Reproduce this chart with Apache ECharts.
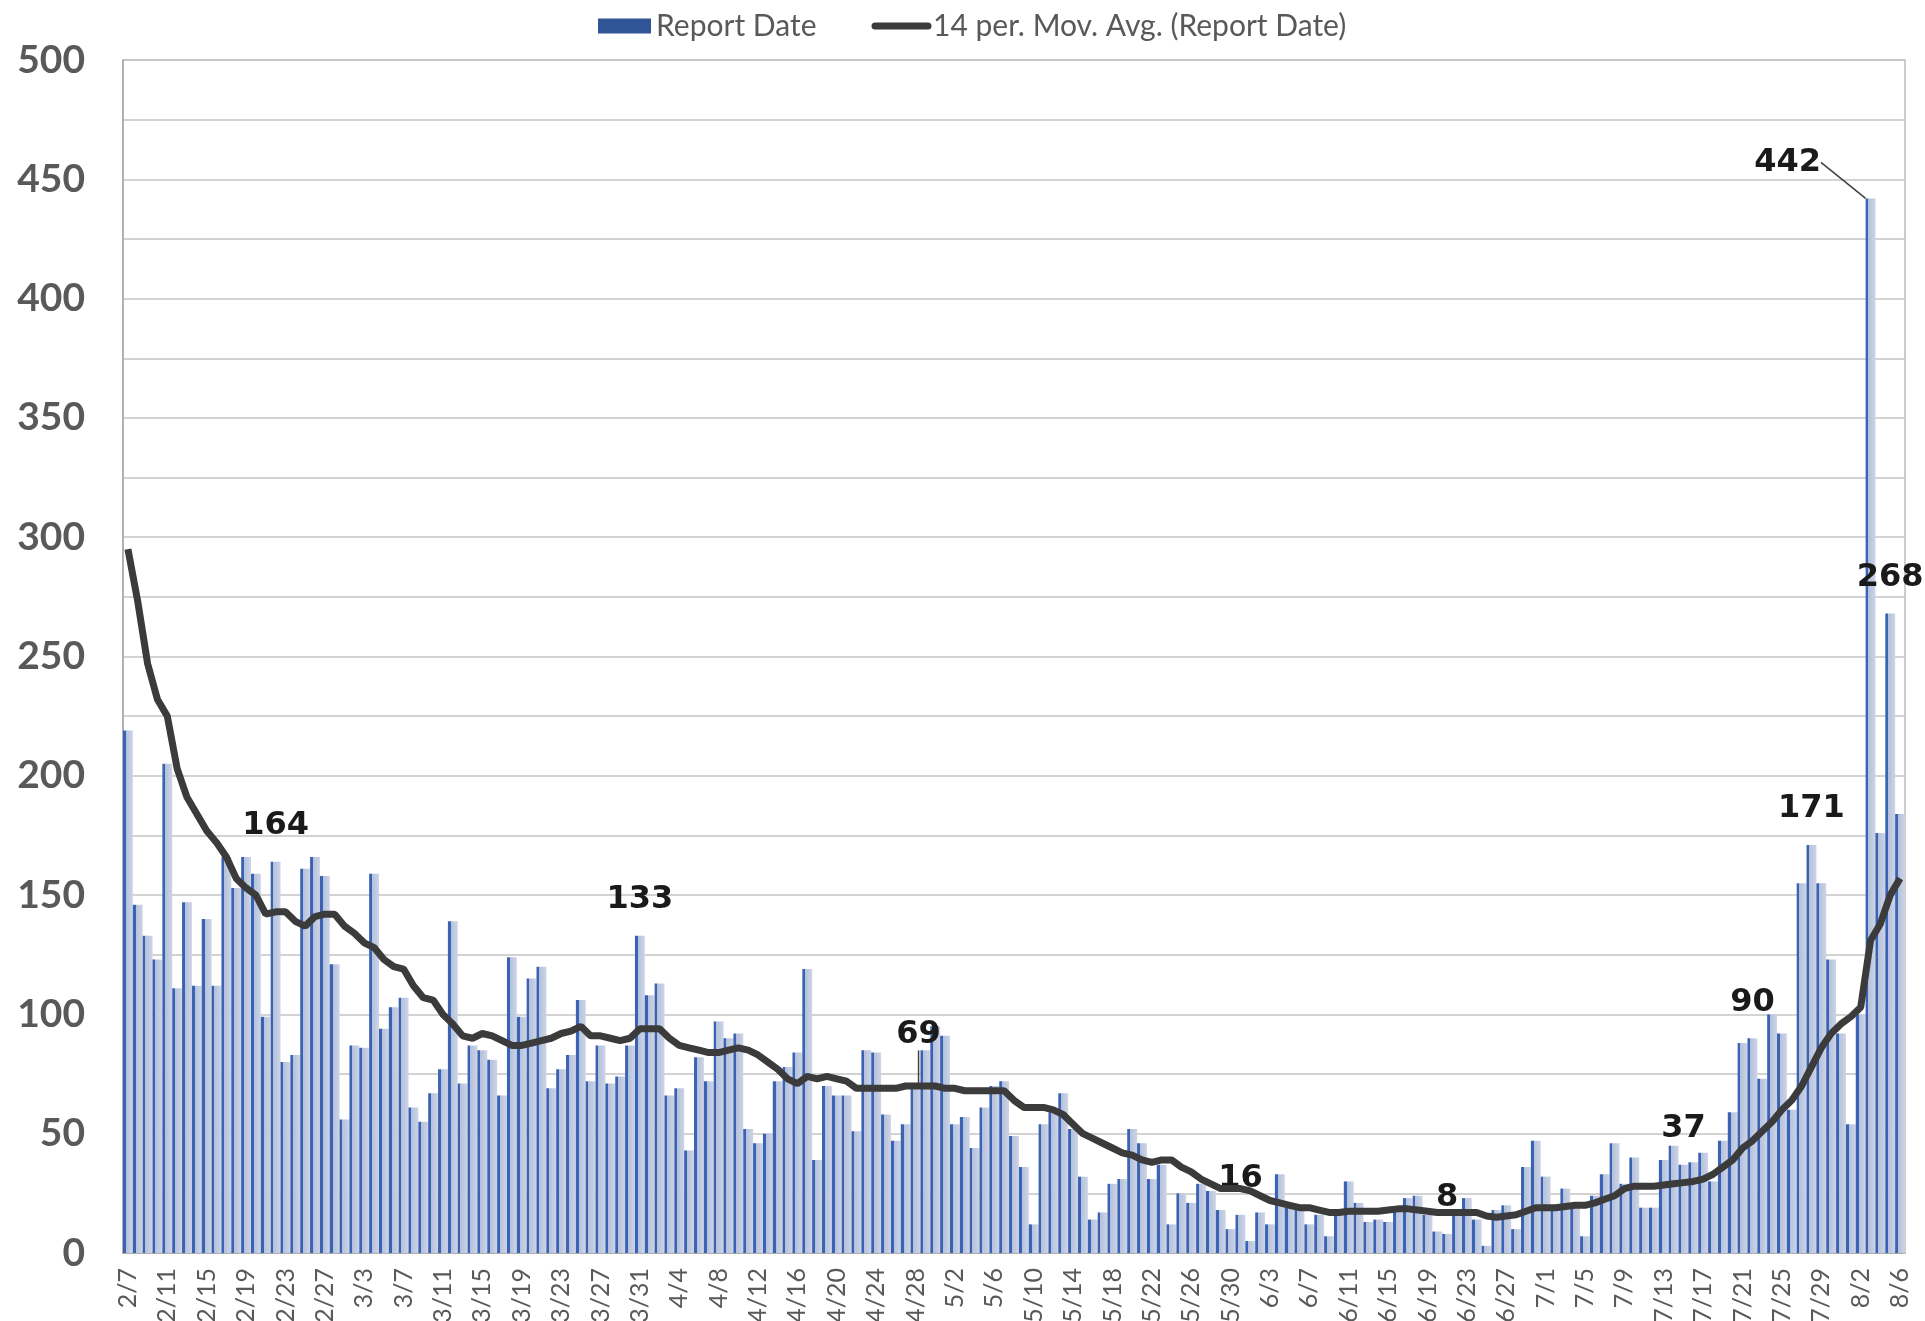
<!DOCTYPE html>
<html>
<head>
<meta charset="utf-8">
<script src="https://cdn.jsdelivr.net/npm/echarts@6/dist/echarts.min.js"></script>
<style>
  html, body { margin: 0; padding: 0; background: #fff; }
  #main { width: 1925px; height: 1321px; }
</style>
</head>
<body>
<div id="main"></div>
<script>
// report dates 2/7 .. 8/6
var dates = [
  '2/7','2/8','2/9','2/10','2/11','2/12','2/13','2/14','2/15','2/16','2/17','2/18','2/19','2/20','2/21','2/22','2/23','2/24','2/25','2/26','2/27','2/28',
  '3/1','3/2','3/3','3/4','3/5','3/6','3/7','3/8','3/9','3/10','3/11','3/12','3/13','3/14','3/15','3/16','3/17','3/18','3/19','3/20','3/21','3/22','3/23','3/24','3/25','3/26','3/27','3/28','3/29','3/30','3/31',
  '4/1','4/2','4/3','4/4','4/5','4/6','4/7','4/8','4/9','4/10','4/11','4/12','4/13','4/14','4/15','4/16','4/17','4/18','4/19','4/20','4/21','4/22','4/23','4/24','4/25','4/26','4/27','4/28','4/29','4/30',
  '5/1','5/2','5/3','5/4','5/5','5/6','5/7','5/8','5/9','5/10','5/11','5/12','5/13','5/14','5/15','5/16','5/17','5/18','5/19','5/20','5/21','5/22','5/23','5/24','5/25','5/26','5/27','5/28','5/29','5/30','5/31',
  '6/1','6/2','6/3','6/4','6/5','6/6','6/7','6/8','6/9','6/10','6/11','6/12','6/13','6/14','6/15','6/16','6/17','6/18','6/19','6/20','6/21','6/22','6/23','6/24','6/25','6/26','6/27','6/28','6/29','6/30',
  '7/1','7/2','7/3','7/4','7/5','7/6','7/7','7/8','7/9','7/10','7/11','7/12','7/13','7/14','7/15','7/16','7/17','7/18','7/19','7/20','7/21','7/22','7/23','7/24','7/25','7/26','7/27','7/28','7/29','7/30','7/31',
  '8/1','8/2','8/3','8/4','8/5','8/6'
];

var reportCounts = [
  219,146,133,123,205,111,147,112,140,112,166,153,166,159,99,164,80,83,161,166,158,121,
  56,87,86,159,94,103,107,61,55,67,77,139,71,87,85,81,66,124,99,115,120,69,77,83,106,72,87,71,74,87,133,
  108,113,66,69,43,82,72,97,90,92,52,46,50,72,78,84,119,39,70,66,66,51,85,84,58,47,54,69,85,95,
  91,54,57,44,61,70,72,49,36,12,54,59,67,52,32,14,17,29,31,52,46,31,37,12,25,21,29,26,18,10,16,
  5,17,12,33,19,18,12,16,7,17,30,21,13,14,13,18,23,24,16,9,8,18,23,14,3,18,20,10,36,47,
  32,19,27,20,7,24,33,46,29,40,19,19,39,45,37,38,42,30,47,59,88,90,73,100,92,60,155,171,155,123,92,
  54,100,442,176,268,184
];

// 14 per. moving average as drawn in the picture
var movAvg = [
  295,273,247,232,225,203,191,184,177,172,166,157,153,150,142,143,143,139,137,141,142,142,
  137,134,130,128,123,120,119,112,107,106,100,96,91,90,92,91,89,87,87,88,89,90,92,93,95,91,91,90,89,90,94,
  94,94,90,87,86,85,84,84,85,86,85,83,80,77,73,71,74,73,74,73,72,69,69,69,69,69,70,70,70,70,
  69,69,68,68,68,68,68,64,61,61,61,60,58,54,50,48,46,44,42,41,39,38,39,39,36,34,31,29,27,27,27,
  26,24,22,21,20,19,19,18,17,17,17.5,17.5,17.5,17.5,18,18.5,18.5,18,17.5,17,17,17,17,17,15.5,15,15.5,16,17.5,19,
  19,19,19.5,20,20,21,22.5,24,27,28,28,28,28.5,29,29.5,30,31,33,36,39,44,47,51,55,60,64,70,78,86,92,96,
  99,103,131,138,150,157
];

// bars that carry a value label, and the ones whose label sits on a leader line
var labeledDays = [15, 52, 80, 113, 134, 158, 165, 171, 177, 179];
var leaderDays = [80, 177];

var chart = echarts.init(document.getElementById('main'));

var barData = reportCounts.map(function (v, i) {
  if (labeledDays.indexOf(i) >= 0) {
    return {
      value: v,
      label: { show: true },
      labelLine: { show: leaderDays.indexOf(i) >= 0 }
    };
  }
  return v;
});

var barFill = new echarts.graphic.LinearGradient(0, 0, 1, 0, [
  { offset: 0, color: '#3a63b3' },
  { offset: 0.28, color: '#3a63b3' },
  { offset: 0.28, color: '#b4c0dc' },
  { offset: 1, color: '#cdd4e5' }
]);

var option = {
  animation: false,
  backgroundColor: '#fff',
  legend: {
    left: 593,
    top: 6,
    itemWidth: 53,
    itemHeight: 15,
    itemGap: 55,
    textStyle: { fontFamily: 'Lato', fontSize: 30, color: '#595959' },
    data: [
      { name: 'Report Date', icon: 'rect', itemStyle: { color: '#2f5597' } },
      {
        name: '14 per. Mov. Avg. (Report Date)',
        itemStyle: { opacity: 0 },
        lineStyle: { width: 7, color: '#3b3b3b', cap: 'round' }
      }
    ]
  },
  grid: {
    left: 123,
    right: 20,
    top: 60,
    bottom: 68,
    outerBoundsMode: 'none',
    show: true,
    borderColor: '#bdbdbd',
    borderWidth: 1.5
  },
  xAxis: {
    type: 'category',
    data: dates,
    axisTick: { show: false },
    axisLine: { lineStyle: { color: '#a6a6a6', width: 1.5 } },
    axisLabel: {
      interval: 3,
      rotate: 90,
      fontFamily: 'Lato',
      fontSize: 25,
      color: '#595959',
      margin: 15
    }
  },
  yAxis: {
    type: 'value',
    min: 0,
    max: 500,
    interval: 50,
    axisLine: { show: true, lineStyle: { color: '#a6a6a6', width: 1.5 } },
    axisTick: { show: false },
    axisLabel: {
      fontFamily: 'Lato',
      fontWeight: 'bold',
      fontSize: 39,
      color: '#595959',
      margin: 38
    },
    splitLine: { lineStyle: { color: '#c4c4c4', width: 1.5 } },
    minorTick: { show: false, splitNumber: 2 },
    minorSplitLine: { show: true, lineStyle: { color: '#c4c4c4', width: 1.5 } }
  },
  series: [
    {
      name: 'Report Date',
      type: 'bar',
      data: barData,
      barCategoryGap: '0%',
      itemStyle: { color: barFill },
      label: {
        show: false,
        position: 'top',
        distance: 20,
        fontFamily: 'DejaVu Sans',
        fontWeight: 'bold',
        fontSize: 32,
        color: '#1a1a1a'
      },
      labelLine: {
        show: false,
        lineStyle: { color: '#404040', width: 1.5 }
      },
      labelLayout: function (params) {
        if (params.dataIndex === 177) {
          return { dx: -83, dy: 0 };
        }
        if (params.dataIndex === 80) {
          return { dx: 3, dy: -18 };
        }
        return {};
      }
    },
    {
      name: '14 per. Mov. Avg. (Report Date)',
      type: 'line',
      data: movAvg,
      symbol: 'none',
      lineStyle: { color: '#3b3b3b', width: 7 },
      itemStyle: { color: '#3b3b3b' },
      z: 3
    }
  ]
};

chart.setOption(option);
</script>
</body>
</html>
